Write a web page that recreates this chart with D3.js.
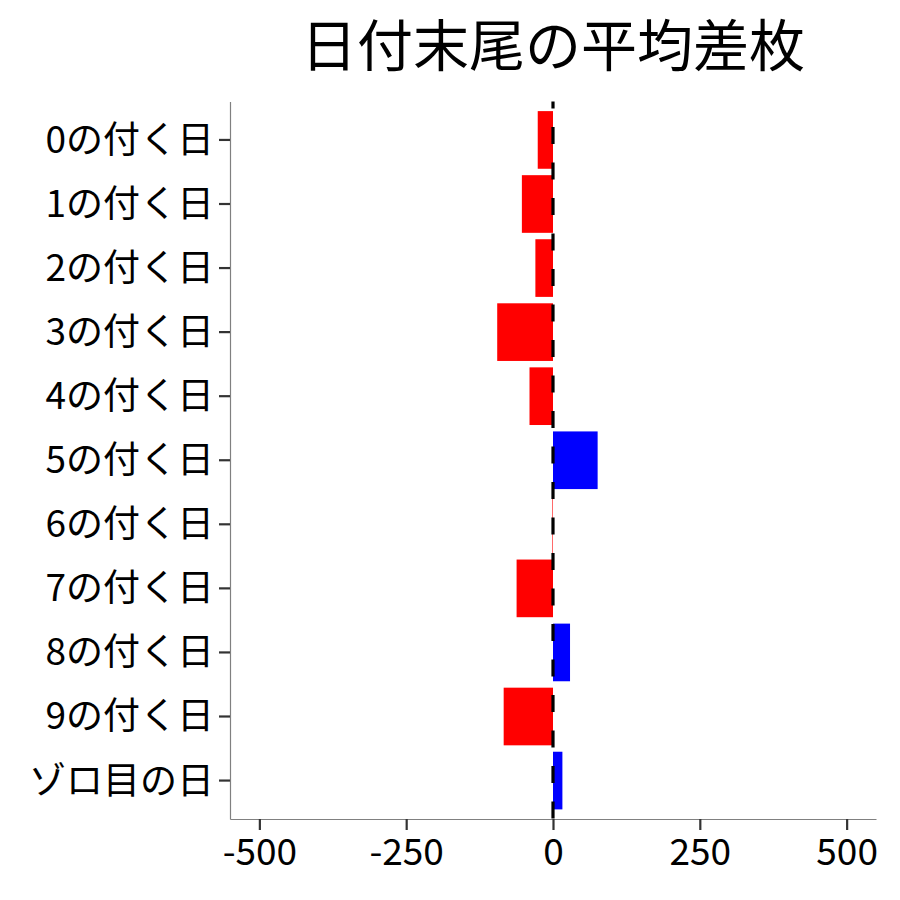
<!DOCTYPE html>
<html>
<head>
<meta charset="utf-8">
<script src="https://cdn.jsdelivr.net/npm/d3@7"></script>
<style>
  body { margin: 0; background: #fff; }
  text { font-family: "Noto Sans CJK JP", "Noto Sans", sans-serif; }
</style>
</head>
<body>
<div id="chart"></div>
<script>
// 日付末尾ごとの平均差枚
const categories = ["0の付く日", "1の付く日", "2の付く日", "3の付く日", "4の付く日",
    "5の付く日", "6の付く日", "7の付く日", "8の付く日", "9の付く日", "ゾロ目の日"];
const avgDiff = [-26, -53, -30, -95, -40, 76, -1, -62, 29, -84, 16];
const xTicks = [-500, -250, 0, 250, 500];
const title = "日付末尾の平均差枚";

const data = categories.map((c, i) => ({ name: c, value: avgDiff[i] }));

const width = 900, height = 900;
const margin = { top: 101.5, right: 24, bottom: 81, left: 230 };

const svg = d3.select("#chart")
    .append("svg")
    .attr("width", width)
    .attr("height", height);

const x = d3.scaleLinear()
    .domain([-550, 550])
    .range([margin.left, width - margin.right]);

const y = d3.scaleBand()
    .domain(categories)
    .range([margin.top, height - margin.bottom])
    .paddingInner(0.1)
    .paddingOuter(0.15);

// bars
svg.selectAll(".bar")
    .data(data)
    .enter()
    .append("rect")
    .attr("class", "bar")
    .attr("x", d => x(Math.min(0, d.value)))
    .attr("y", d => y(d.name))
    .attr("width", d => Math.abs(x(d.value) - x(0)))
    .attr("height", y.bandwidth())
    .attr("fill", d => d.value < 0 ? "#FF0000" : "#0000FF");

// zero line
svg.append("line")
    .attr("x1", x(0)).attr("x2", x(0))
    .attr("y1", margin.top).attr("y2", height - margin.bottom)
    .attr("stroke", "#000")
    .attr("stroke-width", 3.2)
    .attr("stroke-dasharray", "17,18.5")
    .attr("stroke-dashoffset", 10);

// axes
const xAxis = svg.append("g")
    .attr("transform", `translate(0,${height - margin.bottom})`)
    .call(d3.axisBottom(x).tickValues(xTicks).tickFormat(d => String(d))
        .tickSize(11).tickPadding(5).tickSizeOuter(0));

const yAxis = svg.append("g")
    .attr("transform", `translate(${margin.left},0)`)
    .call(d3.axisLeft(y).tickSize(11).tickPadding(5).tickSizeOuter(0));

[xAxis, yAxis].forEach(g => {
    g.select(".domain").attr("stroke", "#808080").attr("stroke-width", 1.2);
    g.selectAll(".tick line").attr("stroke", "#333").attr("stroke-width", 2.2);
    g.selectAll(".tick text")
        .attr("fill", "#000")
        .style("font-size", "37px")
        .style("font-family", "'Noto Sans CJK JP', sans-serif");
});

xAxis.selectAll(".tick text").attr("dy", "0.82em");
yAxis.selectAll(".tick text").attr("dy", "0.35em");

// title
svg.append("text")
    .attr("x", (margin.left + width - margin.right) / 2)
    .attr("y", 66)
    .attr("text-anchor", "middle")
    .style("font-size", "56px")
    .attr("fill", "#000")
    .text(title);
</script>
</body>
</html>
